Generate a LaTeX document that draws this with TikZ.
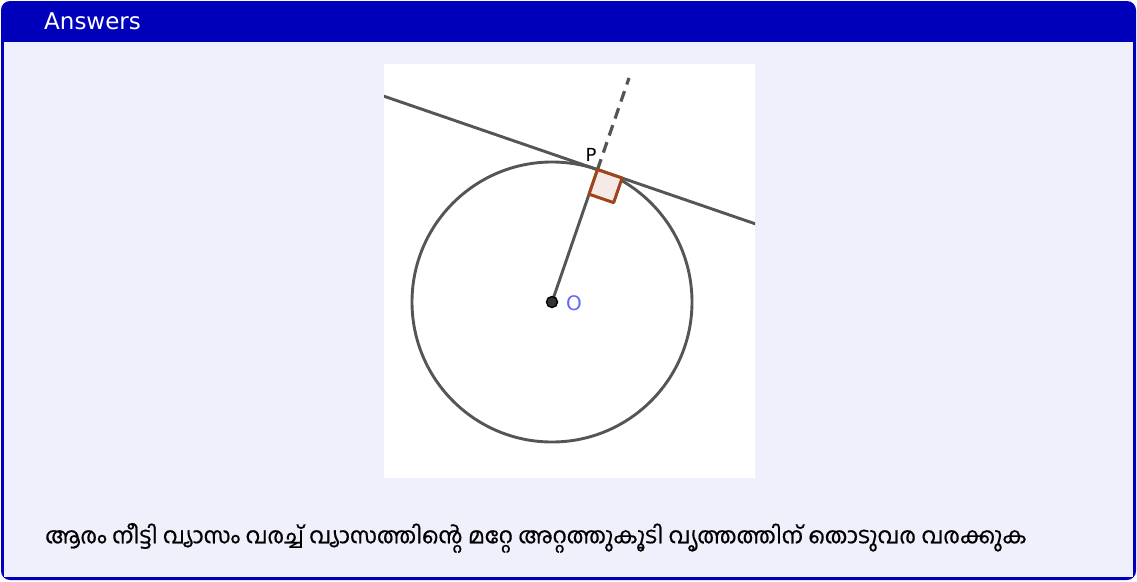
\documentclass[tikz,border=0pt]{standalone}
\usepackage{fontspec}
\newfontfamily\titlefont{DejaVu Sans}
\newfontfamily\malfont[Script=Malayalam, FakeBold=0.6]{Hind Kochi}
\usetikzlibrary{calc}
\definecolor{frameblue}{RGB}{0,0,187}
\definecolor{bodybg}{RGB}{240,240,252}
\definecolor{linegray}{RGB}{85,85,85}
\definecolor{markbrown}{RGB}{160,68,26}
\definecolor{markfill}{RGB}{245,234,230}
\definecolor{oblue}{RGB}{102,102,255}
\tikzset{
  geoline/.style={draw=linegray, line width=2.9pt},
  dashline/.style={draw=linegray, line width=3.2pt, dash pattern=on 11pt off 7pt},
}
\begin{document}
\begin{tikzpicture}[x=1pt,y=-1pt]
\useasboundingbox (0,0) rectangle (1137,581);
% frame
\fill[frameblue, rounded corners=9pt] (1,1) rectangle (1136,580);
\fill[bodybg] (4,42) rectangle (1133,577);
\node[anchor=west, text=white, font=\titlefont\fontsize{23}{26}\selectfont, inner sep=0pt] (title) at (44,21) {Answers};
% image area
\fill[white] (384,64) rectangle (755,478);
\begin{scope}
\clip (384,64) rectangle (755,478);
\coordinate (O) at (552,302);
\coordinate (E) at (629,78);
\coordinate (P) at ($(O)!140pt!(E)$);
\coordinate (T1) at ($(P)!-240pt!90:(O)$);
\coordinate (T2) at ($(P)!240pt!90:(O)$);
\draw[geoline] (O) circle[radius=140];
\draw[geoline] (T1) -- (T2);
\draw[dashline] (P) -- (E);
\draw[geoline] (O) -- (P);
\coordinate (A) at ($(P)!26pt!(O)$);
\coordinate (B) at ($(P)!26pt!90:(O)$);
\coordinate (C) at ($(A)+(B)-(P)$);
\draw[draw=markbrown, fill=markfill, line width=3pt, line join=round] (P) -- (A) -- (C) -- (B) -- cycle;
\fill[fill=black!80, draw=black, line width=1.4pt] (O) circle[radius=5.5];
\node[text=oblue, font=\titlefont\fontsize{20}{22}\selectfont, anchor=west, inner sep=0pt] (olabel) at (566,303) {O};
\node[text=black, font=\titlefont\fontsize{18}{20}\selectfont, inner sep=0pt] (plabel) at (591,155) {P};
\end{scope}
\node[anchor=west, inner sep=0pt, font=\malfont\fontsize{22.3}{27}\selectfont] (txt) at (45,538) {ആരം നീട്ടി വ്യാസം വരച്ച് വ്യാസത്തിന്റെ മറ്റേ അറ്റത്തുകൂടി വൃത്തത്തിന് തൊടുവര വരക്കുക};
\end{tikzpicture}
\end{document}
